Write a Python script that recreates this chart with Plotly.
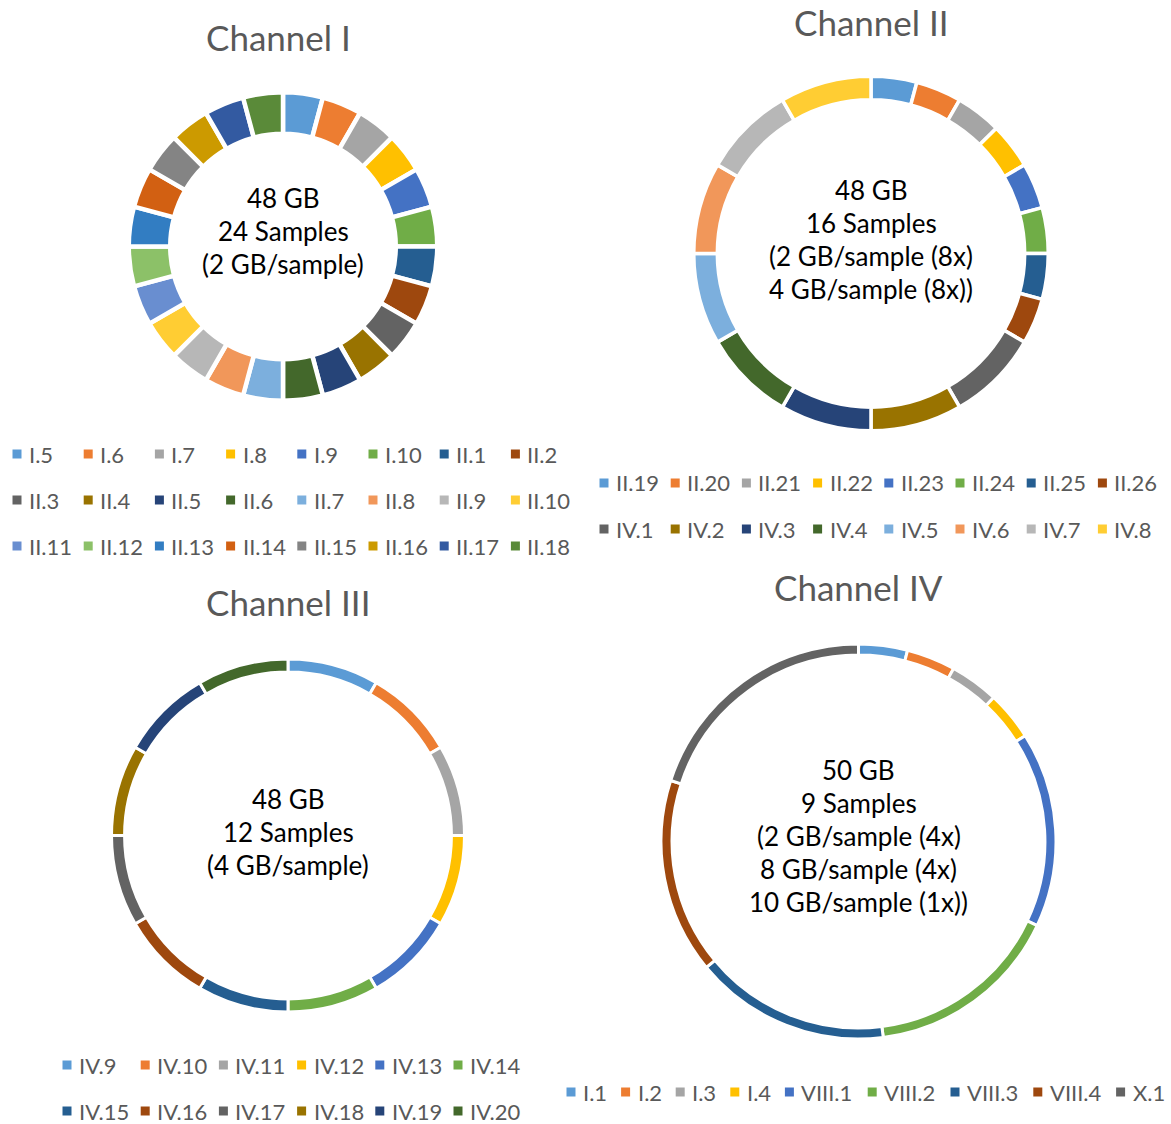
import plotly.graph_objects as go

W, H = 1171, 1124

# Office-style series colours, in series order
palette = ["#5B9BD5", "#ED7D31", "#A5A5A5", "#FFC000", "#4472C4", "#70AD47",
           "#255E91", "#9E480E", "#636363", "#997300", "#264478", "#43682B",
           "#7CAFDD", "#F1975A", "#B7B7B7", "#FFCD33", "#698ED0", "#8CC168",
           "#327DC2", "#D26012", "#848484", "#CC9A00", "#335AA1", "#5A8A39"]

# ---- data: sample size (GB) per sample, one list per channel ----
ch1_labels = ["I.5", "I.6", "I.7", "I.8", "I.9", "I.10", "II.1", "II.2",
              "II.3", "II.4", "II.5", "II.6", "II.7", "II.8", "II.9", "II.10",
              "II.11", "II.12", "II.13", "II.14", "II.15", "II.16", "II.17", "II.18"]
ch1_values = [2, 2, 2, 2, 2, 2, 2, 2, 2, 2, 2, 2, 2, 2, 2, 2, 2, 2, 2, 2, 2, 2, 2, 2]

ch2_labels = ["II.19", "II.20", "II.21", "II.22", "II.23", "II.24", "II.25", "II.26",
              "IV.1", "IV.2", "IV.3", "IV.4", "IV.5", "IV.6", "IV.7", "IV.8"]
ch2_values = [2, 2, 2, 2, 2, 2, 2, 2, 4, 4, 4, 4, 4, 4, 4, 4]

ch3_labels = ["IV.9", "IV.10", "IV.11", "IV.12", "IV.13", "IV.14",
              "IV.15", "IV.16", "IV.17", "IV.18", "IV.19", "IV.20"]
ch3_values = [4, 4, 4, 4, 4, 4, 4, 4, 4, 4, 4, 4]

ch4_labels = ["I.1", "I.2", "I.3", "I.4", "VIII.1", "VIII.2", "VIII.3", "VIII.4", "X.1"]
ch4_values = [2, 2, 2, 2, 8, 8, 8, 8, 10]

titles = ["Channel I", "Channel II", "Channel III", "Channel IV"]
center_texts = [
    ["48 GB", "24 Samples", "(2 GB/sample)"],
    ["48 GB", "16 Samples", "(2 GB/sample (8x)", "4 GB/sample (8x))"],
    ["48 GB", "12 Samples", "(4 GB/sample)"],
    ["50 GB", "9 Samples", "(2 GB/sample (4x)", "8 GB/sample (4x)", "10 GB/sample (1x))"],
]

# ---- layout (pixels) ----
FONT = "Lato, 'Open Sans', sans-serif"
GREY = "#595959"

channels = [
    dict(labels=ch1_labels, values=ch1_values, cx=283, cy=246.5, r=154.25, hole=0.731, lw=4.5,
         title_xy=(278, 37), text_y0=198,
         leg=dict(per_row=8, x0=17, pitch=71.2, rows_y=[454, 500, 546])),
    dict(labels=ch2_labels, values=ch2_values, cx=871, cy=253.5, r=177.25, hole=0.867, lw=3.5,
         title_xy=(871, 22), text_y0=190,
         leg=dict(per_row=8, x0=604, pitch=71.2, rows_y=[483, 529])),
    dict(labels=ch3_labels, values=ch3_values, cx=288, cy=835.5, r=176.5, hole=0.926, lw=3,
         title_xy=(288, 602), text_y0=799,
         leg=dict(per_row=6, x0=67, pitch=78.2, rows_y=[1065, 1111])),
    dict(labels=ch4_labels, values=ch4_values, cx=858.5, cy=841.5, r=197.5, hole=0.944, lw=3,
         title_xy=(858, 587), text_y0=770,
         leg=dict(per_row=9, x0=571, pitch=None, rows_y=[1092])),
]

LINE_H = 33
SQ = 9

# approximate glyph advance (px) of legend font, used for variable-width entries
CHAR_W = {"I": 6.6, ".": 4.8, "V": 15.0, "X": 13.5}


def text_w(s):
    return sum(CHAR_W.get(c, 12.2) for c in s)


def px(x):
    return x / W


def py(y):
    return 1 - y / H


fig = go.Figure()
annotations = []
shapes = []

for i, ch in enumerate(channels):
    n = len(ch["labels"])
    cols = palette[:n]
    r = ch["r"]
    fig.add_trace(go.Pie(
        labels=ch["labels"], values=ch["values"], name=titles[i],
        hole=ch["hole"], sort=False, direction="clockwise", rotation=0,
        marker=dict(colors=cols, line=dict(color="white", width=ch["lw"])),
        textinfo="none", hoverinfo="label+value", showlegend=False,
        domain=dict(x=[px(ch["cx"] - r), px(ch["cx"] + r)],
                    y=[py(ch["cy"] + r), py(ch["cy"] - r)]),
    ))

    tx, ty = ch["title_xy"]
    annotations.append(dict(text=titles[i], x=px(tx), y=py(ty), xref="paper", yref="paper",
                            xanchor="center", yanchor="middle", showarrow=False,
                            font=dict(family=FONT, size=35, color=GREY)))

    for k, line in enumerate(center_texts[i]):
        annotations.append(dict(text=line, x=px(ch["cx"]), y=py(ch["text_y0"] + k * LINE_H),
                                xref="paper", yref="paper", xanchor="center", yanchor="middle",
                                showarrow=False, font=dict(family=FONT, size=26, color="black")))

    leg = ch["leg"]
    x = leg["x0"]
    for j, lab in enumerate(ch["labels"]):
        row = j // leg["per_row"]
        col = j % leg["per_row"]
        if leg["pitch"] is not None:
            xc = leg["x0"] + col * leg["pitch"]
        else:
            xc = x
            x += text_w(lab) + 31
        yc = leg["rows_y"][row]
        shapes.append(dict(type="rect", xref="paper", yref="paper",
                           x0=px(xc - SQ / 2), x1=px(xc + SQ / 2),
                           y0=py(yc + SQ / 2), y1=py(yc - SQ / 2),
                           fillcolor=cols[j], line=dict(width=0)))
        annotations.append(dict(text=lab, x=px(xc + 10), y=py(yc), xref="paper", yref="paper",
                                xanchor="left", yanchor="middle", showarrow=False,
                                font=dict(family=FONT, size=22, color=GREY)))

fig.update_layout(
    width=W, height=H, autosize=False,
    margin=dict(l=0, r=0, t=0, b=0),
    paper_bgcolor="white", plot_bgcolor="white",
    annotations=annotations, shapes=shapes,
)

fig.write_html("out.html")
